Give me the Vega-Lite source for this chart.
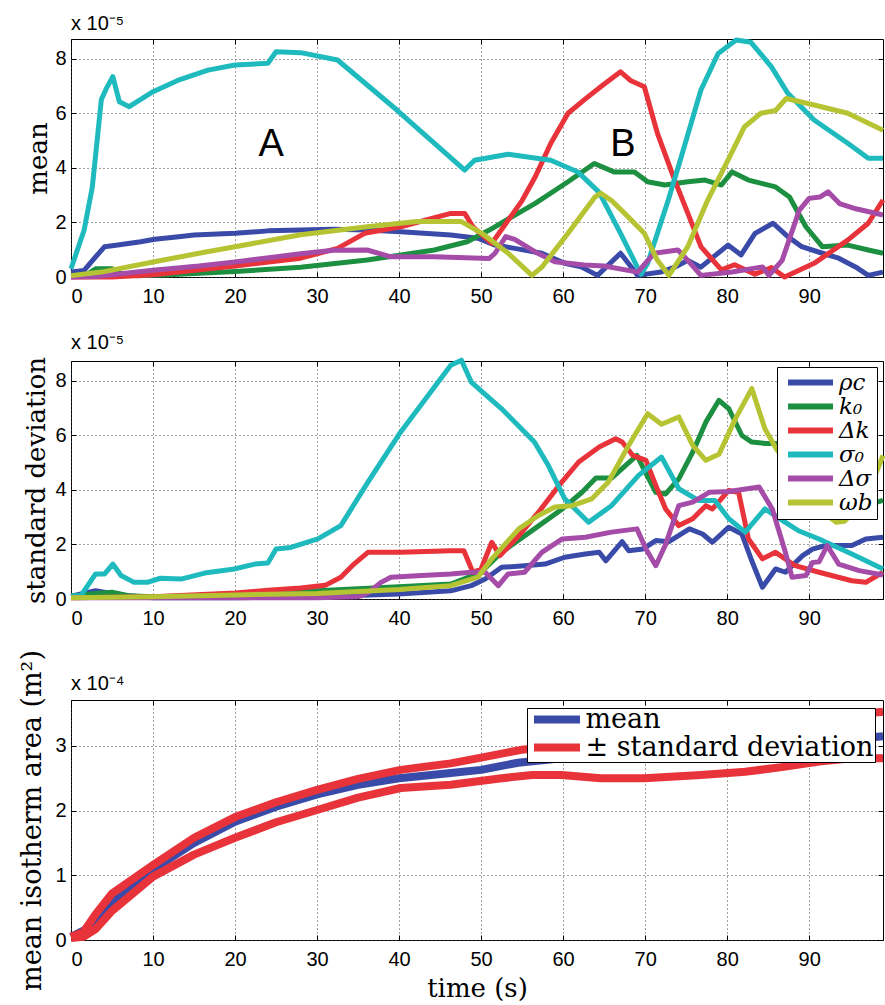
{
"$schema":"https://vega.github.io/schema/vega-lite/v6.json",
"padding":{"left":18,"top":13,"right":3,"bottom":2},
"background":"white",
"datasets":{
"mean":[
{"p":"ρc","t":0,"v":0.18},{"p":"ρc","t":1.6,"v":0.24},{"p":"ρc","t":3,"v":0.74},{"p":"ρc","t":4.1,"v":1.11},{"p":"ρc","t":5.7,"v":1.17},{"p":"ρc","t":8.5,"v":1.29},{"p":"ρc","t":10.2,"v":1.38},{"p":"ρc","t":13.4,"v":1.48},{"p":"ρc","t":15,"v":1.54},{"p":"ρc","t":20,"v":1.6},{"p":"ρc","t":24,"v":1.69},{"p":"ρc","t":28,"v":1.72},{"p":"ρc","t":32,"v":1.75},{"p":"ρc","t":36,"v":1.72},{"p":"ρc","t":40.2,"v":1.66},{"p":"ρc","t":46.3,"v":1.54},{"p":"ρc","t":49.6,"v":1.42},{"p":"ρc","t":51.7,"v":1.17},{"p":"ρc","t":54.1,"v":1.05},{"p":"ρc","t":57.4,"v":0.87},{"p":"ρc","t":60.2,"v":0.5},{"p":"ρc","t":62.2,"v":0.37},{"p":"ρc","t":64.2,"v":0.06},{"p":"ρc","t":67,"v":0.87},{"p":"ρc","t":69.1,"v":0.06},{"p":"ρc","t":71.9,"v":0.18},{"p":"ρc","t":73.6,"v":0.36},{"p":"ρc","t":75.2,"v":0.61},{"p":"ρc","t":76.8,"v":0.36},{"p":"ρc","t":80.1,"v":1.17},{"p":"ρc","t":81.7,"v":0.81},{"p":"ρc","t":83.4,"v":1.6},{"p":"ρc","t":85.6,"v":1.97},{"p":"ρc","t":87.4,"v":1.48},{"p":"ρc","t":89.1,"v":1.11},{"p":"ρc","t":91.6,"v":0.87},{"p":"ρc","t":93.6,"v":0.69},{"p":"ρc","t":95.7,"v":0.36},{"p":"ρc","t":97.2,"v":0.06},{"p":"ρc","t":99,"v":0.18},
{"p":"k₀","t":0,"v":0.05},{"p":"k₀","t":2,"v":0.1},{"p":"k₀","t":3,"v":0.3},{"p":"k₀","t":5,"v":0.3},{"p":"k₀","t":6,"v":0.15},{"p":"k₀","t":8,"v":0.05},{"p":"k₀","t":12,"v":0.08},{"p":"k₀","t":20,"v":0.2},{"p":"k₀","t":28,"v":0.36},{"p":"k₀","t":36.1,"v":0.62},{"p":"k₀","t":44.3,"v":0.99},{"p":"k₀","t":48.3,"v":1.29},{"p":"k₀","t":51,"v":1.72},{"p":"k₀","t":56.6,"v":2.7},{"p":"k₀","t":60.6,"v":3.49},{"p":"k₀","t":63.8,"v":4.16},{"p":"k₀","t":66.2,"v":3.85},{"p":"k₀","t":68.7,"v":3.85},{"p":"k₀","t":70.3,"v":3.49},{"p":"k₀","t":72.4,"v":3.37},{"p":"k₀","t":75.2,"v":3.49},{"p":"k₀","t":77.3,"v":3.55},{"p":"k₀","t":79.3,"v":3.37},{"p":"k₀","t":80.6,"v":3.85},{"p":"k₀","t":82.6,"v":3.55},{"p":"k₀","t":85.9,"v":3.3},{"p":"k₀","t":87.6,"v":2.93},{"p":"k₀","t":89.6,"v":1.84},{"p":"k₀","t":91.6,"v":1.11},{"p":"k₀","t":94.7,"v":1.17},{"p":"k₀","t":97.2,"v":0.99},{"p":"k₀","t":99,"v":0.87},
{"p":"Δk","t":0,"v":0},{"p":"Δk","t":5,"v":0},{"p":"Δk","t":10,"v":0.08},{"p":"Δk","t":20,"v":0.4},{"p":"Δk","t":28,"v":0.69},{"p":"Δk","t":32.5,"v":1.05},{"p":"Δk","t":35.8,"v":1.6},{"p":"Δk","t":40.2,"v":1.84},{"p":"Δk","t":46.3,"v":2.33},{"p":"Δk","t":48,"v":2.33},{"p":"Δk","t":49,"v":1.84},{"p":"Δk","t":51.3,"v":1.23},{"p":"Δk","t":55,"v":2.8},{"p":"Δk","t":56.6,"v":3.67},{"p":"Δk","t":58.5,"v":4.9},{"p":"Δk","t":60.6,"v":6.0},{"p":"Δk","t":62.6,"v":6.5},{"p":"Δk","t":64.7,"v":7.0},{"p":"Δk","t":67,"v":7.52},{"p":"Δk","t":68.2,"v":7.2},{"p":"Δk","t":69.9,"v":6.97},{"p":"Δk","t":71.5,"v":5.26},{"p":"Δk","t":73.6,"v":3.55},{"p":"Δk","t":75.2,"v":2.34},{"p":"Δk","t":76.8,"v":1.11},{"p":"Δk","t":79.3,"v":0.26},{"p":"Δk","t":80.9,"v":0.45},{"p":"Δk","t":83.4,"v":0.1},{"p":"Δk","t":85.4,"v":0.35},{"p":"Δk","t":87,"v":0},{"p":"Δk","t":90.6,"v":0.5},{"p":"Δk","t":94.7,"v":1.35},{"p":"Δk","t":97.2,"v":1.97},{"p":"Δk","t":99,"v":2.82},
{"p":"σ₀","t":0,"v":0.3},{"p":"σ₀","t":1.6,"v":1.72},{"p":"σ₀","t":2.6,"v":3.3},{"p":"σ₀","t":3.7,"v":6.5},{"p":"σ₀","t":4.3,"v":6.9},{"p":"σ₀","t":5.1,"v":7.34},{"p":"σ₀","t":5.9,"v":6.42},{"p":"σ₀","t":7.1,"v":6.24},{"p":"σ₀","t":10,"v":6.79},{"p":"σ₀","t":13,"v":7.2},{"p":"σ₀","t":16.7,"v":7.58},{"p":"σ₀","t":20,"v":7.77},{"p":"σ₀","t":24,"v":7.83},{"p":"σ₀","t":25,"v":8.25},{"p":"σ₀","t":28,"v":8.22},{"p":"σ₀","t":32.5,"v":7.95},{"p":"σ₀","t":39.8,"v":6.1},{"p":"σ₀","t":48,"v":3.92},{"p":"σ₀","t":49.2,"v":4.28},{"p":"σ₀","t":53.3,"v":4.5},{"p":"σ₀","t":58.5,"v":4.28},{"p":"σ₀","t":61.8,"v":3.85},{"p":"σ₀","t":64.4,"v":3.1},{"p":"σ₀","t":67,"v":1.6},{"p":"σ₀","t":69.1,"v":0.33},{"p":"σ₀","t":69.5,"v":0.1},{"p":"σ₀","t":70.3,"v":0.5},{"p":"σ₀","t":72.8,"v":2.8},{"p":"σ₀","t":74.4,"v":4.4},{"p":"σ₀","t":76.8,"v":6.85},{"p":"σ₀","t":78.9,"v":8.19},{"p":"σ₀","t":81.1,"v":8.68},{"p":"σ₀","t":82.9,"v":8.6},{"p":"σ₀","t":85.4,"v":7.7},{"p":"σ₀","t":87.4,"v":6.73},{"p":"σ₀","t":90.6,"v":5.75},{"p":"σ₀","t":94.7,"v":4.9},{"p":"σ₀","t":97.2,"v":4.35},{"p":"σ₀","t":99,"v":4.35},
{"p":"Δσ","t":0,"v":0},{"p":"Δσ","t":3,"v":0.02},{"p":"Δσ","t":10,"v":0.25},{"p":"Δσ","t":15.6,"v":0.4},{"p":"Δσ","t":20,"v":0.55},{"p":"Δσ","t":28,"v":0.85},{"p":"Δσ","t":32,"v":0.98},{"p":"Δσ","t":36.1,"v":0.99},{"p":"Δσ","t":39,"v":0.74},{"p":"Δσ","t":44.3,"v":0.74},{"p":"Δσ","t":51,"v":0.68},{"p":"Δσ","t":51.7,"v":0.87},{"p":"Δσ","t":53,"v":1.48},{"p":"Δσ","t":54.1,"v":1.38},{"p":"Δσ","t":56.6,"v":0.92},{"p":"Δσ","t":59,"v":0.56},{"p":"Δσ","t":62.6,"v":0.44},{"p":"Δσ","t":65,"v":0.4},{"p":"Δσ","t":69.1,"v":0.18},{"p":"Δσ","t":71.1,"v":0.87},{"p":"Δσ","t":74,"v":0.99},{"p":"Δσ","t":75.2,"v":0.61},{"p":"Δσ","t":76.8,"v":0.06},{"p":"Δσ","t":80.6,"v":0.18},{"p":"Δσ","t":84.3,"v":0.37},{"p":"Δσ","t":85.1,"v":0.06},{"p":"Δσ","t":86.7,"v":0.61},{"p":"Δσ","t":88.8,"v":2.45},{"p":"Δσ","t":90,"v":2.88},{"p":"Δσ","t":91.3,"v":2.93},{"p":"Δσ","t":92.3,"v":3.12},{"p":"Δσ","t":93.7,"v":2.69},{"p":"Δσ","t":95.7,"v":2.5},{"p":"Δσ","t":99,"v":2.27},
{"p":"ωb","t":0,"v":0.05},{"p":"ωb","t":3.7,"v":0.18},{"p":"ωb","t":10,"v":0.55},{"p":"ωb","t":15.6,"v":0.87},{"p":"ωb","t":20,"v":1.11},{"p":"ωb","t":28,"v":1.55},{"p":"ωb","t":36.1,"v":1.84},{"p":"ωb","t":42.2,"v":2.03},{"p":"ωb","t":47.6,"v":2.03},{"p":"ωb","t":50.1,"v":1.6},{"p":"ωb","t":53.3,"v":0.87},{"p":"ωb","t":56.2,"v":0.06},{"p":"ωb","t":57.4,"v":0.36},{"p":"ωb","t":60.6,"v":1.6},{"p":"ωb","t":63.9,"v":2.94},{"p":"ωb","t":64.6,"v":3.07},{"p":"ωb","t":65.9,"v":2.8},{"p":"ωb","t":67.5,"v":2.33},{"p":"ωb","t":69.9,"v":1.6},{"p":"ωb","t":71.5,"v":0.61},{"p":"ωb","t":72.9,"v":0.06},{"p":"ωb","t":75.2,"v":1.11},{"p":"ωb","t":77.6,"v":2.8},{"p":"ωb","t":80.1,"v":4.28},{"p":"ωb","t":82.1,"v":5.5},{"p":"ωb","t":84.1,"v":6.0},{"p":"ωb","t":85.9,"v":6.1},{"p":"ωb","t":87.2,"v":6.54},{"p":"ωb","t":90.6,"v":6.3},{"p":"ωb","t":94.7,"v":6.0},{"p":"ωb","t":99,"v":5.38}
],
"std":[
{"p":"ρc","t":0,"v":0.1},{"p":"ρc","t":3,"v":0.3},{"p":"ρc","t":6,"v":0.15},{"p":"ρc","t":10,"v":0.05},{"p":"ρc","t":20,"v":0.05},{"p":"ρc","t":30,"v":0.08},{"p":"ρc","t":40,"v":0.18},{"p":"ρc","t":46.3,"v":0.3},{"p":"ρc","t":48.8,"v":0.49},{"p":"ρc","t":50.5,"v":0.73},{"p":"ρc","t":52.5,"v":1.16},{"p":"ρc","t":55.3,"v":1.22},{"p":"ρc","t":57.8,"v":1.28},{"p":"ρc","t":60.2,"v":1.53},{"p":"ρc","t":62.7,"v":1.65},{"p":"ρc","t":64.4,"v":1.71},{"p":"ρc","t":65.2,"v":1.4},{"p":"ρc","t":67.2,"v":2.1},{"p":"ρc","t":68,"v":1.77},{"p":"ρc","t":69.7,"v":1.83},{"p":"ρc","t":71.3,"v":2.14},{"p":"ρc","t":72.9,"v":2.1},{"p":"ρc","t":75.4,"v":2.57},{"p":"ρc","t":77,"v":2.38},{"p":"ρc","t":78.2,"v":2.08},{"p":"ρc","t":80.2,"v":2.63},{"p":"ρc","t":81.8,"v":2.38},{"p":"ρc","t":83,"v":1.4},{"p":"ρc","t":84.3,"v":0.43},{"p":"ρc","t":85.9,"v":1.1},{"p":"ρc","t":87.1,"v":0.98},{"p":"ρc","t":89.2,"v":1.59},{"p":"ρc","t":90.4,"v":1.83},{"p":"ρc","t":92,"v":1.96},{"p":"ρc","t":95.2,"v":1.96},{"p":"ρc","t":96.9,"v":2.2},{"p":"ρc","t":99,"v":2.26},
{"p":"k₀","t":0,"v":0.1},{"p":"k₀","t":3,"v":0.2},{"p":"k₀","t":5,"v":0.25},{"p":"k₀","t":7,"v":0.12},{"p":"k₀","t":10,"v":0.08},{"p":"k₀","t":20,"v":0.15},{"p":"k₀","t":30,"v":0.3},{"p":"k₀","t":40,"v":0.45},{"p":"k₀","t":46.3,"v":0.55},{"p":"k₀","t":50,"v":0.98},{"p":"k₀","t":52.5,"v":1.71},{"p":"k₀","t":56.5,"v":2.57},{"p":"k₀","t":59.9,"v":3.3},{"p":"k₀","t":62.3,"v":3.91},{"p":"k₀","t":64,"v":4.43},{"p":"k₀","t":65.9,"v":4.43},{"p":"k₀","t":67.6,"v":4.89},{"p":"k₀","t":69,"v":5.26},{"p":"k₀","t":70.1,"v":4.6},{"p":"k₀","t":71.3,"v":3.91},{"p":"k₀","t":72.5,"v":3.85},{"p":"k₀","t":74.1,"v":4.4},{"p":"k₀","t":75.8,"v":5.38},{"p":"k₀","t":77.4,"v":6.48},{"p":"k₀","t":79,"v":7.28},{"p":"k₀","t":80.2,"v":6.97},{"p":"k₀","t":81.8,"v":5.99},{"p":"k₀","t":83,"v":5.75},{"p":"k₀","t":84.6,"v":5.7},{"p":"k₀","t":86,"v":5.7},{"p":"k₀","t":88,"v":5.5},{"p":"k₀","t":90,"v":4.8},{"p":"k₀","t":92,"v":3.8},{"p":"k₀","t":94.3,"v":3.18},{"p":"k₀","t":96,"v":3.35},{"p":"k₀","t":99,"v":3.61},
{"p":"Δk","t":0,"v":0.05},{"p":"Δk","t":10,"v":0.08},{"p":"Δk","t":20,"v":0.22},{"p":"Δk","t":24,"v":0.32},{"p":"Δk","t":28,"v":0.4},{"p":"Δk","t":31,"v":0.5},{"p":"Δk","t":32.9,"v":0.8},{"p":"Δk","t":34.5,"v":1.28},{"p":"Δk","t":36.2,"v":1.71},{"p":"Δk","t":40.2,"v":1.71},{"p":"Δk","t":46.3,"v":1.77},{"p":"Δk","t":47.9,"v":1.77},{"p":"Δk","t":49,"v":0.98},{"p":"Δk","t":50,"v":1.1},{"p":"Δk","t":51.3,"v":2.08},{"p":"Δk","t":52.3,"v":1.59},{"p":"Δk","t":54.6,"v":2.32},{"p":"Δk","t":57,"v":3.18},{"p":"Δk","t":59.5,"v":4.16},{"p":"Δk","t":61.9,"v":5.02},{"p":"Δk","t":64.4,"v":5.57},{"p":"Δk","t":66.4,"v":5.87},{"p":"Δk","t":67.2,"v":5.75},{"p":"Δk","t":68.5,"v":5.26},{"p":"Δk","t":70.1,"v":5.08},{"p":"Δk","t":71.3,"v":4.16},{"p":"Δk","t":72.5,"v":3.3},{"p":"Δk","t":74.1,"v":2.69},{"p":"Δk","t":75.8,"v":2.94},{"p":"Δk","t":77.4,"v":3.42},{"p":"Δk","t":78.2,"v":3.3},{"p":"Δk","t":80.2,"v":3.98},{"p":"Δk","t":81.4,"v":3.9},{"p":"Δk","t":82.6,"v":2.2},{"p":"Δk","t":84.3,"v":1.47},{"p":"Δk","t":85.9,"v":1.71},{"p":"Δk","t":88.3,"v":1.22},{"p":"Δk","t":91.2,"v":0.98},{"p":"Δk","t":95.2,"v":0.67},{"p":"Δk","t":96.9,"v":0.61},{"p":"Δk","t":99,"v":0.98},
{"p":"σ₀","t":0,"v":0.12},{"p":"σ₀","t":1.2,"v":0.12},{"p":"σ₀","t":3,"v":0.92},{"p":"σ₀","t":4.1,"v":0.92},{"p":"σ₀","t":5.1,"v":1.28},{"p":"σ₀","t":6.1,"v":0.86},{"p":"σ₀","t":7.7,"v":0.61},{"p":"σ₀","t":9.3,"v":0.61},{"p":"σ₀","t":10.9,"v":0.76},{"p":"σ₀","t":13.4,"v":0.73},{"p":"σ₀","t":16.3,"v":0.95},{"p":"σ₀","t":19.9,"v":1.1},{"p":"σ₀","t":22.4,"v":1.28},{"p":"σ₀","t":24,"v":1.32},{"p":"σ₀","t":25,"v":1.83},{"p":"σ₀","t":26.8,"v":1.89},{"p":"σ₀","t":30.1,"v":2.2},{"p":"σ₀","t":32.9,"v":2.69},{"p":"σ₀","t":36.2,"v":4.28},{"p":"σ₀","t":40.2,"v":6.12},{"p":"σ₀","t":46.3,"v":8.56},{"p":"σ₀","t":47.6,"v":8.75},{"p":"σ₀","t":48.8,"v":7.95},{"p":"σ₀","t":52.5,"v":6.97},{"p":"σ₀","t":56.5,"v":5.75},{"p":"σ₀","t":58.2,"v":4.89},{"p":"σ₀","t":60.2,"v":3.67},{"p":"σ₀","t":63.1,"v":2.81},{"p":"σ₀","t":65.9,"v":3.42},{"p":"σ₀","t":69.2,"v":4.53},{"p":"σ₀","t":72,"v":5.2},{"p":"σ₀","t":74.1,"v":4.04},{"p":"σ₀","t":76.5,"v":3.61},{"p":"σ₀","t":78.5,"v":3.61},{"p":"σ₀","t":80.2,"v":2.94},{"p":"σ₀","t":82.2,"v":2.45},{"p":"σ₀","t":84.6,"v":3.3},{"p":"σ₀","t":87.1,"v":2.81},{"p":"σ₀","t":88.7,"v":2.5},{"p":"σ₀","t":91.2,"v":2.2},{"p":"σ₀","t":95.2,"v":1.65},{"p":"σ₀","t":99,"v":1.1},
{"p":"Δσ","t":0,"v":0.05},{"p":"Δσ","t":10,"v":0.05},{"p":"Δσ","t":20,"v":0.05},{"p":"Δσ","t":30,"v":0.05},{"p":"Δσ","t":35,"v":0.08},{"p":"Δσ","t":36.2,"v":0.23},{"p":"Δσ","t":37.8,"v":0.61},{"p":"Δσ","t":39,"v":0.8},{"p":"Δσ","t":42.2,"v":0.85},{"p":"Δσ","t":46.3,"v":0.92},{"p":"Δσ","t":48.8,"v":0.98},{"p":"Δσ","t":50.5,"v":0.98},{"p":"Δσ","t":52.1,"v":0.49},{"p":"Δσ","t":53.3,"v":0.92},{"p":"Δσ","t":55.3,"v":0.98},{"p":"Δσ","t":57.4,"v":1.71},{"p":"Δσ","t":59.9,"v":2.2},{"p":"Δσ","t":62.7,"v":2.26},{"p":"Δσ","t":65.9,"v":2.45},{"p":"Δσ","t":69,"v":2.57},{"p":"Δσ","t":70.1,"v":1.83},{"p":"Δσ","t":71.3,"v":1.22},{"p":"Δσ","t":72.5,"v":2.0},{"p":"Δσ","t":74.1,"v":3.42},{"p":"Δσ","t":75.8,"v":3.55},{"p":"Δσ","t":77.8,"v":3.91},{"p":"Δσ","t":80.2,"v":3.94},{"p":"Δσ","t":83.9,"v":4.1},{"p":"Δσ","t":85.5,"v":3.3},{"p":"Δσ","t":87.1,"v":1.71},{"p":"Δσ","t":87.9,"v":0.8},{"p":"Δσ","t":89.6,"v":0.86},{"p":"Δσ","t":90.4,"v":1.34},{"p":"Δσ","t":91.2,"v":1.36},{"p":"Δσ","t":92.2,"v":1.96},{"p":"Δσ","t":93.6,"v":1.28},{"p":"Δσ","t":96.1,"v":1.04},{"p":"Δσ","t":99,"v":0.88},
{"p":"ωb","t":0,"v":0.05},{"p":"ωb","t":10,"v":0.08},{"p":"ωb","t":20,"v":0.15},{"p":"ωb","t":30,"v":0.2},{"p":"ωb","t":40,"v":0.35},{"p":"ωb","t":46.3,"v":0.49},{"p":"ωb","t":49.6,"v":0.8},{"p":"ωb","t":51.3,"v":1.47},{"p":"ωb","t":54.6,"v":2.57},{"p":"ωb","t":57,"v":3.06},{"p":"ωb","t":59,"v":3.37},{"p":"ωb","t":61.1,"v":3.42},{"p":"ωb","t":63.5,"v":3.67},{"p":"ωb","t":65.5,"v":4.28},{"p":"ωb","t":68,"v":5.63},{"p":"ωb","t":70.3,"v":6.79},{"p":"ωb","t":72,"v":6.4},{"p":"ωb","t":74.1,"v":6.67},{"p":"ωb","t":75.8,"v":5.63},{"p":"ωb","t":77.4,"v":5.08},{"p":"ωb","t":79,"v":5.3},{"p":"ωb","t":81,"v":6.6},{"p":"ωb","t":83,"v":7.71},{"p":"ωb","t":84.6,"v":6.24},{"p":"ωb","t":86,"v":5.5},{"p":"ωb","t":88,"v":4.7},{"p":"ωb","t":90,"v":3.8},{"p":"ωb","t":91.2,"v":3.3},{"p":"ωb","t":93.3,"v":2.81},{"p":"ωb","t":94.3,"v":2.85},{"p":"ωb","t":96.9,"v":3.67},{"p":"ωb","t":99,"v":5.26}
],
"area":[
{"p":"mean","s":"m","t":0,"v":0.05},{"p":"mean","s":"m","t":3,"v":0.24},{"p":"mean","s":"m","t":5.3,"v":0.6},{"p":"mean","s":"m","t":10,"v":1.09},{"p":"mean","s":"m","t":15,"v":1.5},{"p":"mean","s":"m","t":20,"v":1.83},{"p":"mean","s":"m","t":25,"v":2.06},{"p":"mean","s":"m","t":30,"v":2.25},{"p":"mean","s":"m","t":35,"v":2.4},{"p":"mean","s":"m","t":40,"v":2.5},{"p":"mean","s":"m","t":46.3,"v":2.58},{"p":"mean","s":"m","t":50,"v":2.63},{"p":"mean","s":"m","t":54.5,"v":2.74},{"p":"mean","s":"m","t":59.8,"v":2.81},{"p":"mean","s":"m","t":66.7,"v":2.84},{"p":"mean","s":"m","t":77.7,"v":2.89},{"p":"mean","s":"m","t":85,"v":2.95},{"p":"mean","s":"m","t":90,"v":3.02},{"p":"mean","s":"m","t":95,"v":3.1},{"p":"mean","s":"m","t":99,"v":3.15},
{"p":"± standard deviation","s":"u","t":0,"v":0.05},{"p":"± standard deviation","s":"u","t":1.5,"v":0.12},{"p":"± standard deviation","s":"u","t":3,"v":0.4},{"p":"± standard deviation","s":"u","t":5,"v":0.72},{"p":"± standard deviation","s":"u","t":10,"v":1.16},{"p":"± standard deviation","s":"u","t":15,"v":1.58},{"p":"± standard deviation","s":"u","t":20,"v":1.9},{"p":"± standard deviation","s":"u","t":25,"v":2.13},{"p":"± standard deviation","s":"u","t":30,"v":2.32},{"p":"± standard deviation","s":"u","t":35,"v":2.49},{"p":"± standard deviation","s":"u","t":40.2,"v":2.63},{"p":"± standard deviation","s":"u","t":46.3,"v":2.73},{"p":"± standard deviation","s":"u","t":50,"v":2.82},{"p":"± standard deviation","s":"u","t":54.9,"v":2.94},{"p":"± standard deviation","s":"u","t":60,"v":3.0},{"p":"± standard deviation","s":"u","t":70,"v":3.15},{"p":"± standard deviation","s":"u","t":80,"v":3.3},{"p":"± standard deviation","s":"u","t":90,"v":3.42},{"p":"± standard deviation","s":"u","t":99,"v":3.53},
{"p":"± standard deviation","s":"l","t":0,"v":0.03},{"p":"± standard deviation","s":"l","t":1.5,"v":0.05},{"p":"± standard deviation","s":"l","t":3,"v":0.17},{"p":"± standard deviation","s":"l","t":5,"v":0.45},{"p":"± standard deviation","s":"l","t":10,"v":0.98},{"p":"± standard deviation","s":"l","t":15,"v":1.32},{"p":"± standard deviation","s":"l","t":20,"v":1.58},{"p":"± standard deviation","s":"l","t":25,"v":1.82},{"p":"± standard deviation","s":"l","t":30,"v":2.01},{"p":"± standard deviation","s":"l","t":35,"v":2.2},{"p":"± standard deviation","s":"l","t":40.2,"v":2.35},{"p":"± standard deviation","s":"l","t":46.3,"v":2.4},{"p":"± standard deviation","s":"l","t":52.5,"v":2.5},{"p":"± standard deviation","s":"l","t":56.2,"v":2.55},{"p":"± standard deviation","s":"l","t":59.8,"v":2.55},{"p":"± standard deviation","s":"l","t":64.6,"v":2.5},{"p":"± standard deviation","s":"l","t":69.9,"v":2.5},{"p":"± standard deviation","s":"l","t":76.8,"v":2.55},{"p":"± standard deviation","s":"l","t":82.2,"v":2.6},{"p":"± standard deviation","s":"l","t":87.1,"v":2.68},{"p":"± standard deviation","s":"l","t":91.2,"v":2.76},{"p":"± standard deviation","s":"l","t":95.2,"v":2.81},{"p":"± standard deviation","s":"l","t":99,"v":2.81}
],
"labels":[{"t":24.4,"v":4.83,"label":"A"},{"t":67.3,"v":4.83,"label":"B"}]
},
"spacing":20,
"resolve":{"scale":{"color":"independent"},"legend":{"color":"independent"}},
"vconcat":[
{
"spacing":25,
"resolve":{"scale":{"color":"independent"},"legend":{"color":"independent"}},
"vconcat":[
{
"width":812,"height":238,
"title":{"text":"x 10⁻⁵"},
"layer":[
{"data":{"name":"mean"},"mark":{"type":"line","strokeWidth":5,"strokeJoin":"round"},
"encoding":{
"x":{"field":"t","type":"quantitative","scale":{"domain":[0,99],"nice":false,"zero":false},"axis":{"orient":"bottom","values":[0,10,20,30,40,50,60,70,80,90],"grid":true,"labelPadding":14,"title":null}},
"y":{"field":"v","type":"quantitative","scale":{"domain":[0,8.72],"nice":false},"axis":{"orient":"left","values":[0,2,4,6,8],"grid":true,"labelPadding":10,"title":"mean","titlePadding":3}},
"color":{"field":"p","type":"nominal","scale":{"domain":["ρc","k₀","Δk","σ₀","Δσ","ωb"],"range":["#3a4aa8","#1c8f40","#e8333a","#1fbabe","#a54ca8","#b6c333"]},"legend":null}
}},
{"data":{"name":"labels"},"mark":{"type":"text","font":"Liberation Sans","fontSize":38,"align":"center","baseline":"middle","color":"black"},
"encoding":{"x":{"field":"t","type":"quantitative","axis":null},"y":{"field":"v","type":"quantitative","axis":null},"text":{"field":"label"}}},
{"data":{"name":"mean"},"mark":{"type":"point","opacity":0},
"encoding":{"x":{"field":"t","type":"quantitative","axis":{"orient":"top","values":[0,10,20,30,40,50,60,70,80,90],"labels":false,"grid":false,"title":null}},"y":{"field":"v","type":"quantitative","axis":{"orient":"right","values":[0,2,4,6,8],"labels":false,"grid":false,"title":null}}}}
],
"resolve":{"axis":{"x":"independent","y":"independent"}}
},
{
"width":812,"height":238,
"title":{"text":"x 10⁻⁵"},
"layer":[
{"data":{"name":"std"},"mark":{"type":"line","strokeWidth":5,"strokeJoin":"round"},
"encoding":{
"x":{"field":"t","type":"quantitative","scale":{"domain":[0,99],"nice":false,"zero":false},"axis":{"orient":"bottom","values":[0,10,20,30,40,50,60,70,80,90],"grid":true,"labelPadding":14,"title":null}},
"y":{"field":"v","type":"quantitative","scale":{"domain":[0,8.72],"nice":false},"axis":{"orient":"left","values":[0,2,4,6,8],"grid":true,"labelPadding":10,"title":"standard deviation","titlePadding":5}},
"color":{"field":"p","type":"nominal","scale":{"domain":["ρc","k₀","Δk","σ₀","Δσ","ωb"],"range":["#3a4aa8","#1c8f40","#e8333a","#1fbabe","#a54ca8","#b6c333"]},
"legend":{"orient":"top-right","offset":6,"title":null,"fillColor":"white","strokeColor":"black","padding":4,"labelFont":"DejaVu Serif","labelFontStyle":"italic","labelFontSize":23,"labelColor":"black","symbolType":"M-2,0H2","symbolStrokeWidth":6,"symbolSize":506,"symbolOffset":15,"rowPadding":0,"clipHeight":23,"labelOffset":14,"labelLimit":300}}
}},
{"data":{"name":"std"},"mark":{"type":"point","opacity":0},
"encoding":{"x":{"field":"t","type":"quantitative","axis":{"orient":"top","values":[0,10,20,30,40,50,60,70,80,90],"labels":false,"grid":false,"title":null}},"y":{"field":"v","type":"quantitative","axis":{"orient":"right","values":[0,2,4,6,8],"labels":false,"grid":false,"title":null}}}}
],
"resolve":{"axis":{"x":"independent","y":"independent"}}
}
]
},
{
"width":812,"height":240,
"title":{"text":"x 10⁻⁴","offset":-44},
"layer":[
{"data":{"name":"area"},"mark":{"type":"line","strokeWidth":8,"strokeJoin":"round"},
"encoding":{
"x":{"field":"t","type":"quantitative","scale":{"domain":[0,99],"nice":false,"zero":false},"axis":{"orient":"bottom","values":[0,10,20,30,40,50,60,70,80,90],"grid":true,"labelPadding":14,"title":"time (s)","titlePadding":6}},
"y":{"field":"v","type":"quantitative","scale":{"domain":[0,3.71],"nice":false},"axis":{"orient":"left","values":[0,1,2,3],"grid":true,"labelPadding":10,"title":"mean isotherm area (m²)","titlePadding":8,"titleFontSize":27}},
"color":{"field":"p","type":"nominal","scale":{"domain":["mean","± standard deviation"],"range":["#3a4aa8","#e8333a"]},
"legend":{"orient":"top-right","offset":8,"title":null,"fillColor":"white","strokeColor":"black","padding":1,"labelFont":"DejaVu Serif","labelFontSize":27,"labelColor":"black","symbolType":"M-2,0H2","symbolStrokeWidth":8,"symbolSize":529,"symbolOffset":13.5,"rowPadding":0,"clipHeight":21,"labelOffset":13,"labelLimit":500}},
"detail":{"field":"s"}
}},
{"data":{"name":"area"},"mark":{"type":"point","opacity":0},
"encoding":{"x":{"field":"t","type":"quantitative","axis":{"orient":"top","values":[0,10,20,30,40,50,60,70,80,90],"labels":false,"grid":false,"title":null}},"y":{"field":"v","type":"quantitative","axis":{"orient":"right","values":[0,1,2,3],"labels":false,"grid":false,"title":null}}}}
],
"resolve":{"axis":{"x":"independent","y":"independent"}}
}
],
"config":{
"view":{"stroke":"black","strokeWidth":1},
"axis":{"labelFont":"Liberation Sans","labelFontSize":20,"labelColor":"black","tickColor":"black","tickSize":-5,"domain":false,"gridColor":"#444","gridDash":[1,3],"gridOpacity":1,"gridWidth":1,"titleFont":"DejaVu Serif","titleFontSize":26,"titleFontWeight":"normal","titleColor":"black"},
"title":{"anchor":"start","font":"Liberation Sans","fontSize":20,"fontWeight":"normal","color":"black","offset":3,"frame":"group"}
}
}
